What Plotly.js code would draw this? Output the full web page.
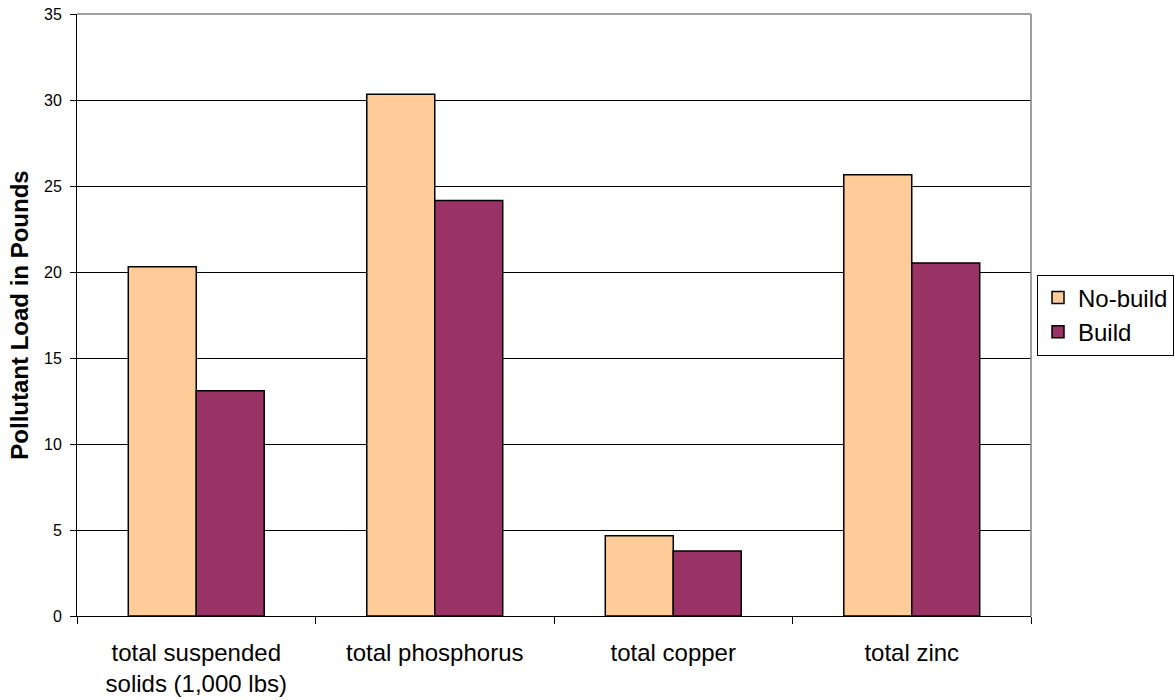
<!DOCTYPE html>
<html>
<head>
<meta charset="utf-8">
<script src="https://cdn.plot.ly/plotly-3.0.1.min.js"></script>
<style>html,body{margin:0;padding:0;background:#fff;}#chart{width:1175px;height:700px;}</style>
</head>
<body>
<div id="chart"></div>
<script>
var categories = ["total suspended<br>solids (1,000 lbs)", "total phosphorus", "total copper", "total zinc"];
var noBuild = [20.3, 30.33, 4.67, 25.66];
var build = [13.1, 24.15, 3.78, 20.52];
var yTicks = [0, 5, 10, 15, 20, 25, 30, 35];

var traces = [
  {type: "bar", name: "No-build", x: categories, y: noBuild,
   marker: {color: "#FFCC99", line: {color: "#000000", width: 1.5}}},
  {type: "bar", name: "Build", x: categories, y: build,
   marker: {color: "#993366", line: {color: "#000000", width: 1.5}}}
];

var layout = {
  width: 1175, height: 700,
  margin: {l: 77, r: 144, t: 14, b: 84},
  paper_bgcolor: "#ffffff", plot_bgcolor: "#ffffff",
  font: {family: "Liberation Sans, Arial, sans-serif", color: "#000000", size: 16},
  barmode: "group", bargap: 0.43, bargroupgap: 0,
  showlegend: true,
  legend: {xref: "container", yref: "container", x: 1174 / 1175, xanchor: "right", y: 1 - 315 / 700, yanchor: "middle",
           bordercolor: "#000000", borderwidth: 1, bgcolor: "#ffffff",
           font: {size: 24}, itemwidth: 30, tracegroupgap: 0},
  xaxis: {
    type: "category", tickson: "boundaries", ticks: "outside", ticklen: 7, tickcolor: "#000",
    showline: true, linecolor: "#000000", linewidth: 1, mirror: false,
    tickfont: {size: 24}, ticklabelstandoff: 15, showgrid: false
  },
  yaxis: {
    range: [0, 35], tickvals: yTicks, ticktext: yTicks.map(String),
    ticks: "outside", ticklen: 6, tickcolor: "#000",
    showline: true, linecolor: "#000000", linewidth: 1,
    showgrid: true, gridcolor: "#000000", gridwidth: 1, zeroline: false,
    tickfont: {size: 16}, ticklabelstandoff: 5,
    title: {text: "<b>Pollutant Load in Pounds</b>", font: {size: 24}, standoff: 8}
  },
  shapes: [
    {type: "line", xref: "paper", yref: "paper", x0: 0, x1: 1, y0: 1, y1: 1, line: {color: "#808080", width: 1.5}},
    {type: "line", xref: "paper", yref: "paper", x0: 1, x1: 1, y0: 0, y1: 1, line: {color: "#808080", width: 1.5}}
  ]
};

Plotly.newPlot("chart", traces, layout, {displayModeBar: false});
</script>
</body>
</html>
